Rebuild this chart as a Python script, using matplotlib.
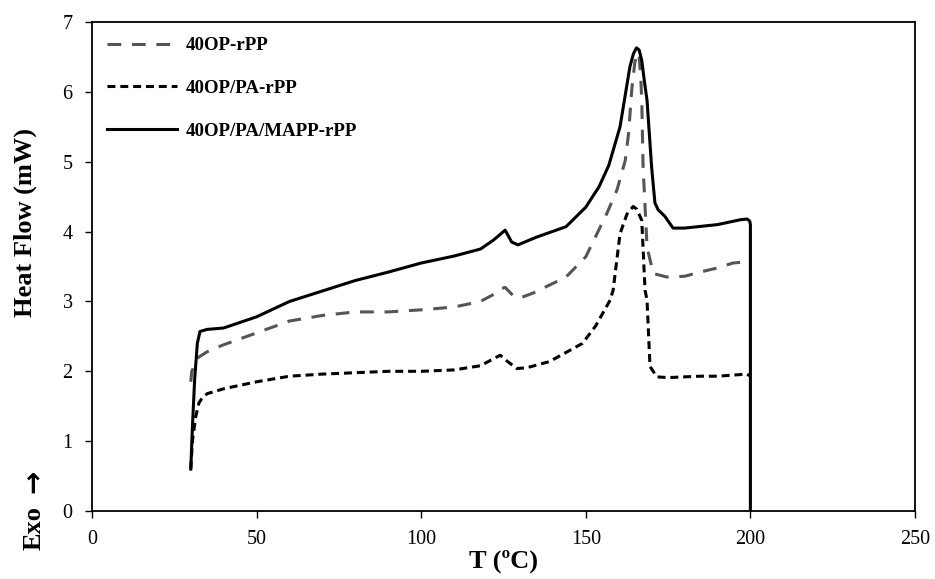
import matplotlib.pyplot as plt

plt.rcParams["font.family"] = ["Liberation Serif", "DejaVu Serif"]

# 40OP-rPP (grey dashed)
t_op = [30.0, 30.3, 32.3, 35, 37.4, 40, 50, 60, 70, 80, 90, 100, 110, 118, 122, 124, 125.5,
        128, 130, 134, 144, 150, 156.4, 159.5, 162, 163, 164, 164.9, 165.6, 166.2, 166.7, 167,
        167.4, 168.6, 170.5, 174.6, 180, 184.7, 190, 194.7, 199.3, 200]
hf_op = [1.85, 2.0, 2.2, 2.28, 2.33, 2.38, 2.55, 2.72, 2.8, 2.85, 2.85, 2.88, 2.92, 3.0, 3.1,
         3.18, 3.2, 3.08, 3.05, 3.12, 3.35, 3.64, 4.26, 4.6, 5.02, 5.41, 6.05, 6.42, 6.56, 6.5,
         6.2, 5.88, 4.93, 3.78, 3.4, 3.35, 3.36, 3.42, 3.48, 3.55, 3.57, 3.58]

# 40OP/PA-rPP (black short dashes)
t_pa = [30.0, 30.5, 31.5, 32.5, 33.5, 35, 40, 50, 60, 70, 80, 90, 100, 110, 118, 122, 124,
        126, 129, 132, 139, 149, 153, 157.4, 158.3, 160.4, 162.5, 164.4, 165.5, 167, 168,
        168.6, 169.5, 171.6, 175, 184.7, 190, 199, 200]
hf_pa = [0.6, 1.0, 1.35, 1.55, 1.62, 1.68, 1.75, 1.85, 1.93, 1.96, 1.98, 2.0, 2.0, 2.02, 2.08,
         2.18, 2.23, 2.15, 2.04, 2.05, 2.14, 2.4, 2.65, 3.02, 3.16, 3.97, 4.25, 4.36, 4.32, 4.16,
         3.16, 3.02, 2.07, 1.92, 1.91, 1.93, 1.93, 1.96, 1.93]

# 40OP/PA/MAPP-rPP (solid)
t_mapp = [30.0, 30.5, 31.2, 32.0, 32.8, 35, 40, 50, 60, 70, 80, 90, 100, 110, 118, 122, 125.5,
          127.5, 129.4, 135, 144, 150, 154, 157, 160.4, 163.4, 164.5, 165.4, 166.2, 167.0, 167.8,
          168.6, 170, 171, 172, 174, 176.5, 180, 190, 197, 199, 199.8, 200, 200]
hf_mapp = [0.6, 1.2, 1.9, 2.4, 2.57, 2.6, 2.62, 2.78, 3.0, 3.15, 3.3, 3.42, 3.55, 3.65, 3.75,
           3.88, 4.02, 3.85, 3.81, 3.92, 4.07, 4.35, 4.64, 4.95, 5.5, 6.36, 6.55, 6.63, 6.6, 6.45,
           6.15, 5.88, 4.92, 4.41, 4.31, 4.22, 4.05, 4.05, 4.1, 4.17, 4.18, 4.15, 4.1, 0.0]

fig = plt.figure(figsize=(9.35, 5.79), dpi=100)
ax = fig.add_axes([0.0984, 0.1174, 0.8802, 0.8446])

ax.plot(t_op, hf_op, color="#555555", linewidth=2.2, dashes=(4.5, 3.5), label="40OP-rPP")
ax.plot(t_pa, hf_pa, color="black", linewidth=2.2, dashes=(2.6, 1.6), label="40OP/PA-rPP")
ax.plot(t_mapp, hf_mapp, color="black", linewidth=2.2, label="40OP/PA/MAPP-rPP")

ax.set_xlim(0, 250)
ax.set_ylim(0, 7)
ax.set_xticks(range(0, 251, 50))
ax.set_yticks(range(0, 8))
ax.tick_params(direction="out", length=5, width=1, labelsize=14.5)
ax.tick_params(axis="x", pad=9)
ax.tick_params(axis="y", pad=9)
for s in ax.spines.values():
    s.set_linewidth(1.3)

ax.set_xlabel("T (ºC)", fontsize=19, fontweight="bold", labelpad=0)
fig.text(0.027, 0.615, "Heat Flow (mW)", rotation=90, fontsize=19, fontweight="bold",
         ha="center", va="center")
fig.text(0.036, 0.088, "Exo", rotation=90, fontsize=19, fontweight="bold",
         ha="center", va="center")
fig.text(0.036, 0.168, "→", rotation=90, fontsize=20, fontweight="bold",
         ha="center", va="center", family="DejaVu Sans")

leg = ax.legend(loc="upper left", frameon=False, handlelength=3.7, labelspacing=1.35,
                prop={"weight": "bold", "size": 13.6}, borderaxespad=0.4, handletextpad=0.45)

fig.savefig("out.png", dpi=100)
